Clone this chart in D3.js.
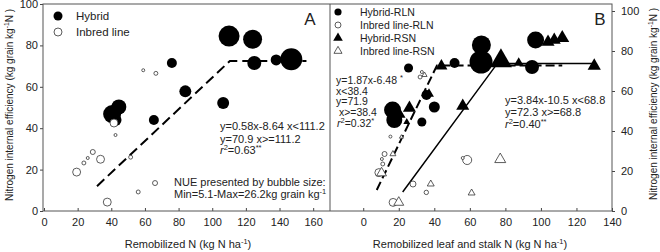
<!DOCTYPE html>
<html>
<head>
<meta charset="utf-8">
<script src="https://cdn.jsdelivr.net/npm/d3@7"></script>
<style>
	body { margin: 0; background: #fff; }
	text { font-family: "Liberation Sans", Arial, sans-serif; fill: #222; }
</style>
</head>
<body>
<div id="chart"></div>
<script>
// Panel A: remobilized N vs N internal efficiency, bubble = NUE
var hybA_x = [110, 124, 125, 138, 147, 76, 84, 106.5, 40.5, 44.5, 42.5, 65.3];
var hybA_y = [84.5, 83, 71.5, 73, 73.3, 71.5, 57.8, 52.2, 46.8, 50.3, 44, 44];
var hybA_nue = [22.2, 19.7, 14.1, 11.2, 23.5, 10.3, 12.1, 12.1, 18.5, 15.1, 12.1, 10.3];

var inbA_x = [41.6, 59, 66.5, 42.5, 29, 26, 23.7, 33.6, 19.4, 37.6, 51.5, 56, 66];
var inbA_y = [42.5, 68, 66.5, 36.7, 28.5, 25.6, 23.2, 25, 18.8, 4.3, 26, 9.2, 13.5];
var inbA_nue = [8.6, 5.1, 5.7, 5.1, 6.4, 5.1, 5.7, 8.6, 8.6, 8.6, 5.7, 5.7, 6.4];

var fitA_x = [31.5, 110.5, 156];
var fitA_y = [12, 72.5, 72.5];

// Panel B: remobilized leaf (RLN) and stalk (RSN) N
var hybRLN_x = [25.5, 51.4, 35.6, 66.5, 66.3, 95, 97, 40, 16.5, 17.5, 33];
var hybRLN_y = [71.5, 74, 58, 83, 74.5, 72, 85.5, 52, 50.5, 45.5, 44.5];
var hybRLN_nue = [9.5, 10.3, 10.3, 19.7, 24.8, 14.1, 17.3, 11.2, 17.3, 16.2, 9.5];

var inbRLN_x = [32, 33, 15.3, 12, 10.5, 11, 8.8, 58.5, 56, 28, 35.5, 16.8];
var inbRLN_y = [67, 69.5, 37.2, 28.5, 26, 23.5, 19.2, 25.5, 26.5, 13.5, 9.3, 4.3];
var inbRLN_nue = [5.7, 5.1, 5.1, 6.4, 5.1, 5.7, 8.6, 9.5, 5.1, 7.1, 6.0, 8.6];

var hybRSN_x = [44, 37, 56, 77.5, 87.5, 104, 107.5, 112, 130, 26, 24.5, 21];
var hybRSN_y = [72.5, 58.5, 52.5, 75, 74, 84.5, 85.5, 86.5, 72.5, 51.5, 44.5, 48];
var hybRSN_nue = [11.9, 10.1, 12.9, 23.0, 10.1, 12.9, 12.9, 13.9, 13.1, 12.9, 7.7, 10.1];

var inbRSN_x = [34.5, 21.5, 16.7, 10.3, 38, 20, 77.1, 61];
var inbRSN_y = [68, 37, 28.5, 19, 13.5, 4.3, 25.8, 9];
var inbRSN_nue = [6.4, 5.7, 7.0, 10.1, 7.7, 10.1, 11.0, 7.7];

var fitRLN_x = [7.6, 41.5, 112];
var fitRLN_y = [10.5, 72.8, 72.8];
var fitRSN_x = [22.2, 75.5, 131];
var fitRSN_y = [9.5, 73.8, 73.8];

var ticksA = [0, 20, 40, 60, 80, 100, 120, 140, 160];
var ticksB = [0, 20, 40, 60, 80, 100, 120, 140];
var ticksY = [0, 20, 40, 60, 80, 100];

var width = 660, height = 252;
var plotTop = 4, plotBottom = 211, plotLeft = 43, plotMid = 330, plotRight = 612;

var svg = d3.select("#chart").append("svg")
	.attr("width", width)
	.attr("height", height);

// scales
var xA = d3.scaleLinear().domain([0, 170]).range([44, plotMid]);
var yA = d3.scaleLinear().domain([0, 100]).range([plotBottom, plotTop]);
var xB = d3.scaleLinear().domain([-18.7, 140]).range([plotMid, plotRight]);
var yB = d3.scaleLinear().domain([0, 103.5]).range([plotBottom, plotTop]);
var rad = d3.scaleSqrt().domain([5.1, 26.2]).range([1.5, 12]);

function zip(xs, ys, ns) {
	return xs.map((d, i) => ({ x: d, y: ys[i], n: ns ? ns[i] : 0 }));
}

// axes
svg.append("g")
	.attr("transform", `translate(0,${plotBottom})`)
	.call(d3.axisBottom(xA).tickValues(ticksA).tickSize(-3).tickPadding(7))
	.call((g) => g.select(".domain").remove());
svg.append("g")
	.attr("transform", `translate(0,${plotBottom})`)
	.call(d3.axisBottom(xB).tickValues(ticksB).tickSize(-3).tickPadding(7))
	.call((g) => g.select(".domain").remove());
svg.append("g")
	.attr("transform", `translate(${plotLeft},0)`)
	.call(d3.axisLeft(yA).tickValues(ticksY).tickSize(3).tickPadding(2))
	.call((g) => g.select(".domain").remove());
svg.append("g")
	.attr("transform", `translate(${plotRight},0)`)
	.call(d3.axisRight(yB).tickValues(ticksY).tickSize(3).tickPadding(6))
	.call((g) => g.select(".domain").remove());
svg.selectAll(".tick text").attr("font-size", 11).attr("font-family", null);
svg.selectAll(".tick line").attr("stroke", "#444");

// frame and divider
svg.append("rect")
	.attr("x", plotLeft).attr("y", plotTop)
	.attr("width", plotRight - plotLeft).attr("height", plotBottom - plotTop)
	.attr("fill", "none").attr("stroke", "#555").attr("stroke-width", 1);
svg.append("line")
	.attr("x1", plotMid).attr("x2", plotMid).attr("y1", plotTop).attr("y2", plotBottom)
	.attr("stroke", "#555");

// fit lines
function fitLine(xs, ys, xs_, ys_, dash, w) {
	var line = d3.line().x((d) => xs_(d.x)).y((d) => ys_(d.y));
	svg.append("path")
		.attr("d", line(zip(xs, ys)))
		.attr("fill", "none")
		.attr("stroke", "#000")
		.attr("stroke-width", w)
		.attr("stroke-dasharray", dash);
}
fitLine(fitA_x, fitA_y, xA, yA, "10,5", 2);
fitLine(fitRLN_x, fitRLN_y, xB, yB, "9,4", 2);
fitLine(fitRSN_x, fitRSN_y, xB, yB, null, 1.5);

// markers
var tri = d3.symbol().type(d3.symbolTriangle);
function circles(data, xs_, ys_, filled) {
	svg.append("g").selectAll("circle")
		.data(data)
		.join("circle")
		.attr("cx", (d) => xs_(d.x))
		.attr("cy", (d) => ys_(d.y))
		.attr("r", (d) => rad(d.n))
		.attr("fill", filled ? "#000" : "#fff")
		.attr("stroke", filled ? "none" : "#333")
		.attr("stroke-width", 0.8);
}
function triangles(data, xs_, ys_, filled) {
	svg.append("g").selectAll("path")
		.data(data)
		.join("path")
		.attr("transform", (d) => `translate(${xs_(d.x)},${ys_(d.y)})`)
		.attr("d", (d) => tri.size(1.8 * rad(d.n) * rad(d.n))())
		.attr("fill", filled ? "#000" : "#fff")
		.attr("stroke", filled ? "none" : "#333")
		.attr("stroke-width", 0.8);
}
circles(zip(hybA_x, hybA_y, hybA_nue), xA, yA, true);
circles(zip(inbA_x, inbA_y, inbA_nue), xA, yA, false);
circles(zip(hybRLN_x, hybRLN_y, hybRLN_nue), xB, yB, true);
triangles(zip(hybRSN_x, hybRSN_y, hybRSN_nue), xB, yB, true);
circles(zip(inbRLN_x, inbRLN_y, inbRLN_nue), xB, yB, false);
triangles(zip(inbRSN_x, inbRSN_y, inbRSN_nue), xB, yB, false);

// legends
var legA = svg.append("g");
legA.append("circle").attr("cx", 58).attr("cy", 16).attr("r", 4.5).attr("fill", "#000");
legA.append("circle").attr("cx", 58).attr("cy", 32).attr("r", 4)
	.attr("fill", "#fff").attr("stroke", "#333").attr("stroke-width", 0.8);
legA.append("text").attr("x", 76).attr("y", 20).attr("font-size", 11.5).text("Hybrid");
legA.append("text").attr("x", 76).attr("y", 36).attr("font-size", 11.5).text("Inbred line");

var legB = [
	{ name: "Hybrid-RLN", shape: "c", fill: true },
	{ name: "Inbred line-RLN", shape: "c", fill: false },
	{ name: "Hybrid-RSN", shape: "t", fill: true },
	{ name: "Inbred line-RSN", shape: "t", fill: false },
];
var lg = svg.append("g").selectAll("g")
	.data(legB)
	.join("g")
	.attr("transform", (d, i) => `translate(338,${12 + i * 13})`);
lg.append("path")
	.attr("d", (d) => d3.symbol().type(d.shape == "c" ? d3.symbolCircle : d3.symbolTriangle)
		.size(d.fill ? 40 : 28)())
	.attr("fill", (d) => (d.fill ? "#000" : "#fff"))
	.attr("stroke", (d) => (d.fill ? "none" : "#333"))
	.attr("stroke-width", 0.8);
lg.append("text").attr("x", 22).attr("y", 4).attr("font-size", 10.5).text((d) => d.name);

// panel letters
svg.append("text").attr("x", 310).attr("y", 25).attr("text-anchor", "middle")
	.attr("font-size", 17).text("A");
svg.append("text").attr("x", 600).attr("y", 25).attr("text-anchor", "middle")
	.attr("font-size", 17).text("B");

// equation blocks
function rLine(g, x, y, val, stars, fs) {
	var t = g.append("text").attr("x", x).attr("y", y).attr("font-size", fs);
	t.append("tspan").attr("font-style", "italic").text("r");
	t.append("tspan").attr("dy", -4).attr("font-size", 7.5).text("2");
	t.append("tspan").attr("dy", 4).text("=" + val);
	t.append("tspan").attr("dy", -4).attr("font-size", 7.5).text(stars);
}
var eq = svg.append("g");
eq.append("text").attr("x", 220).attr("y", 130).attr("font-size", 11).text("y=0.58x-8.64 x<111.2");
eq.append("text").attr("x", 220).attr("y", 142.5).attr("font-size", 11).text("y=70.9 x>=111.2");
rLine(eq, 220, 154, "0.63", "**", 11);
eq.append("text").attr("x", 174).attr("y", 185.5).attr("font-size", 11).text("NUE presented by bubble size:");
var mm = eq.append("text").attr("x", 174).attr("y", 198).attr("font-size", 11);
mm.append("tspan").text("Min=5.1-Max=26.2kg grain kg");
mm.append("tspan").attr("dy", -4).attr("font-size", 7.5).text("-1");

var e1 = eq.append("text").attr("x", 336).attr("y", 84).attr("font-size", 10.5);
e1.append("tspan").text("y=1.87x-6.48 ");
e1.append("tspan").attr("dy", -4).attr("font-size", 7.5).text("*");
eq.append("text").attr("x", 336).attr("y", 94.7).attr("font-size", 10.5).text("x<38.4");
eq.append("text").attr("x", 336).attr("y", 105.4).attr("font-size", 10.5).text("y=71.9");
eq.append("text").attr("x", 336).attr("y", 116.1).attr("font-size", 10.5).text("\u00a0x>=38.4");
rLine(eq, 337, 127, "0.32", "*", 10.5);

eq.append("text").attr("x", 505).attr("y", 104).attr("font-size", 11).text("y=3.84x-10.5 x<68.8");
eq.append("text").attr("x", 505).attr("y", 116).attr("font-size", 11).text("y=72.3 x>=68.8");
rLine(eq, 505, 127.5, "0.40", "**", 11);

// axis titles
function unitTitle(x, y, pre, post, rot, size) {
	var t = svg.append("text")
		.attr("transform", `translate(${x},${y})` + (rot ? " rotate(-90)" : ""))
		.attr("text-anchor", "middle")
		.attr("font-size", size);
	t.append("tspan").text(pre);
	t.append("tspan").attr("dy", -4).attr("font-size", size * 0.68).text("-1");
	t.append("tspan").attr("dy", 4).text(post);
}
unitTitle(188, 248, "Remobilized N (kg N ha", ")", false, 11);
unitTitle(470, 248, "Remobilized leaf and stalk N (kg N ha", ")", false, 11);
unitTitle(13, 105, "Nitrogen internal efficiency (kg grain kg", "N )", true, 10);
unitTitle(657, 104, "Nitrogen internal efficiency (kg grain kg", "N )", true, 10);
</script>
</body>
</html>
